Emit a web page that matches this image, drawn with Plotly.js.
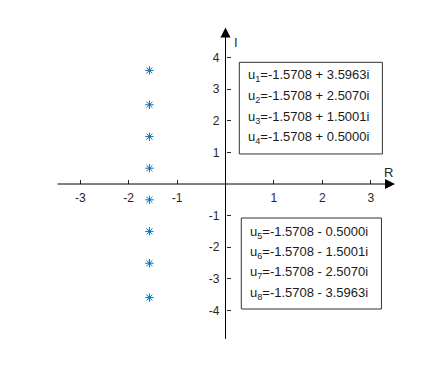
<!DOCTYPE html>
<html>
<head>
<meta charset="utf-8">
<script src="https://cdn.plot.ly/plotly-3.0.1.min.js"></script>
<style>html,body{margin:0;padding:0;background:#fff;}#chart{width:436px;height:382px;}</style>
</head>
<body>
<div id="chart"></div>
<script>
// Roots u_k = re + im*i
const reParts = [-1.5708, -1.5708, -1.5708, -1.5708, -1.5708, -1.5708, -1.5708, -1.5708];
const imParts = [3.5963, 2.5070, 1.5001, 0.5000, -0.5000, -1.5001, -2.5070, -3.5963];
const xTicks = [-3, -2, -1, 1, 2, 3];
const xTickText = ['-3', '-2', '-1', '1', '2', '3'];
const yTicks = [-4, -3, -2, -1, 1, 2, 3, 4];
const yTickText = ['-4', '-3', '-2', '-1', '1', '2', '3', '4'];

const dark = '#262626';
const fontFam = '"Liberation Sans", Arial, Helvetica, sans-serif';

const trace = {
  type: 'scatter', mode: 'markers',
  x: reParts, y: imParts,
  marker: {symbol: 'asterisk-open', size: 7, color: '#0072BD', line: {color: '#0072BD', width: 1}},
  hoverinfo: 'none'
};

function label(k) {
  const re = reParts[k], im = imParts[k];
  const sign = im >= 0 ? ' + ' : ' - ';
  return 'u<sub>' + (k + 1) + '</sub>=' + re.toFixed(4) + sign + Math.abs(im).toFixed(4) + 'i';
}

const annotations = [
  // axis arrows
  {x: 3.5, y: 0, ax: -3.5, ay: 0, xref: 'x', yref: 'y', axref: 'x', ayref: 'y', text: '',
   showarrow: true, arrowhead: 2, arrowsize: 2, arrowwidth: 1, arrowcolor: '#000'},
  {x: 0, y: 4.95, ax: 0, ay: -4.95, xref: 'x', yref: 'y', axref: 'x', ayref: 'y', text: '',
   showarrow: true, arrowhead: 2, arrowsize: 2, arrowwidth: 1, arrowcolor: '#000'},
  {x: 0.21, y: 4.47, xref: 'x', yref: 'y', text: 'I', showarrow: false, xanchor: 'center', yanchor: 'middle',
   font: {family: fontFam, size: 13, color: dark}},
  {x: 3.36, y: 0.36, xref: 'x', yref: 'y', text: 'R', showarrow: false, xanchor: 'center', yanchor: 'middle',
   font: {family: fontFam, size: 13, color: dark}}
];

const line1Y = [3.42, 2.77, 2.11, 1.47];
const line2Y = [-1.53, -2.18, -2.80, -3.46];
for (let k = 0; k < 4; k++) {
  annotations.push({x: 0.423, y: line1Y[k], xref: 'x', yref: 'y', text: label(k), showarrow: false,
    xanchor: 'left', yanchor: 'middle', font: {family: fontFam, size: 13, color: '#1a1a1a'}});
}
for (let k = 4; k < 8; k++) {
  annotations.push({x: 0.465, y: line2Y[k - 4], xref: 'x', yref: 'y', text: label(k), showarrow: false,
    xanchor: 'left', yanchor: 'middle', font: {family: fontFam, size: 13, color: '#1a1a1a'}});
}

const shapes = [
  {type: 'rect', xref: 'x', yref: 'y', x0: 0.285, x1: 3.24, y0: 0.95, y1: 3.85, line: {color: '#333', width: 1}},
  {type: 'rect', xref: 'x', yref: 'y', x0: 0.326, x1: 3.22, y0: -3.956, y1: -1.076, line: {color: '#333', width: 1}}
];

const layout = {
  width: 436, height: 382,
  margin: {l: 56, r: 41, t: 26, b: 40, pad: 0},
  paper_bgcolor: '#fff', plot_bgcolor: '#fff',
  showlegend: false,
  xaxis: {range: [-3.5, 3.5], anchor: 'free', position: 0.5, showgrid: false, zeroline: false, showline: false,
    tickvals: xTicks, ticktext: xTickText, ticks: 'inside', ticklen: 4, tickcolor: dark, tickwidth: 1,
    ticklabelstandoff: 5,
    tickfont: {family: fontFam, size: 12, color: dark}, fixedrange: true},
  yaxis: {range: [-5, 5], anchor: 'free', position: 0.5, showgrid: false, zeroline: false, showline: false,
    tickvals: yTicks, ticktext: yTickText, ticks: 'inside', ticklen: 4, tickcolor: dark, tickwidth: 1,
    ticklabelstandoff: 6,
    tickfont: {family: fontFam, size: 12, color: dark}, fixedrange: true},
  annotations: annotations,
  shapes: shapes
};

Plotly.newPlot('chart', [trace], layout, {staticPlot: true, displayModeBar: false});
</script>
</body>
</html>
